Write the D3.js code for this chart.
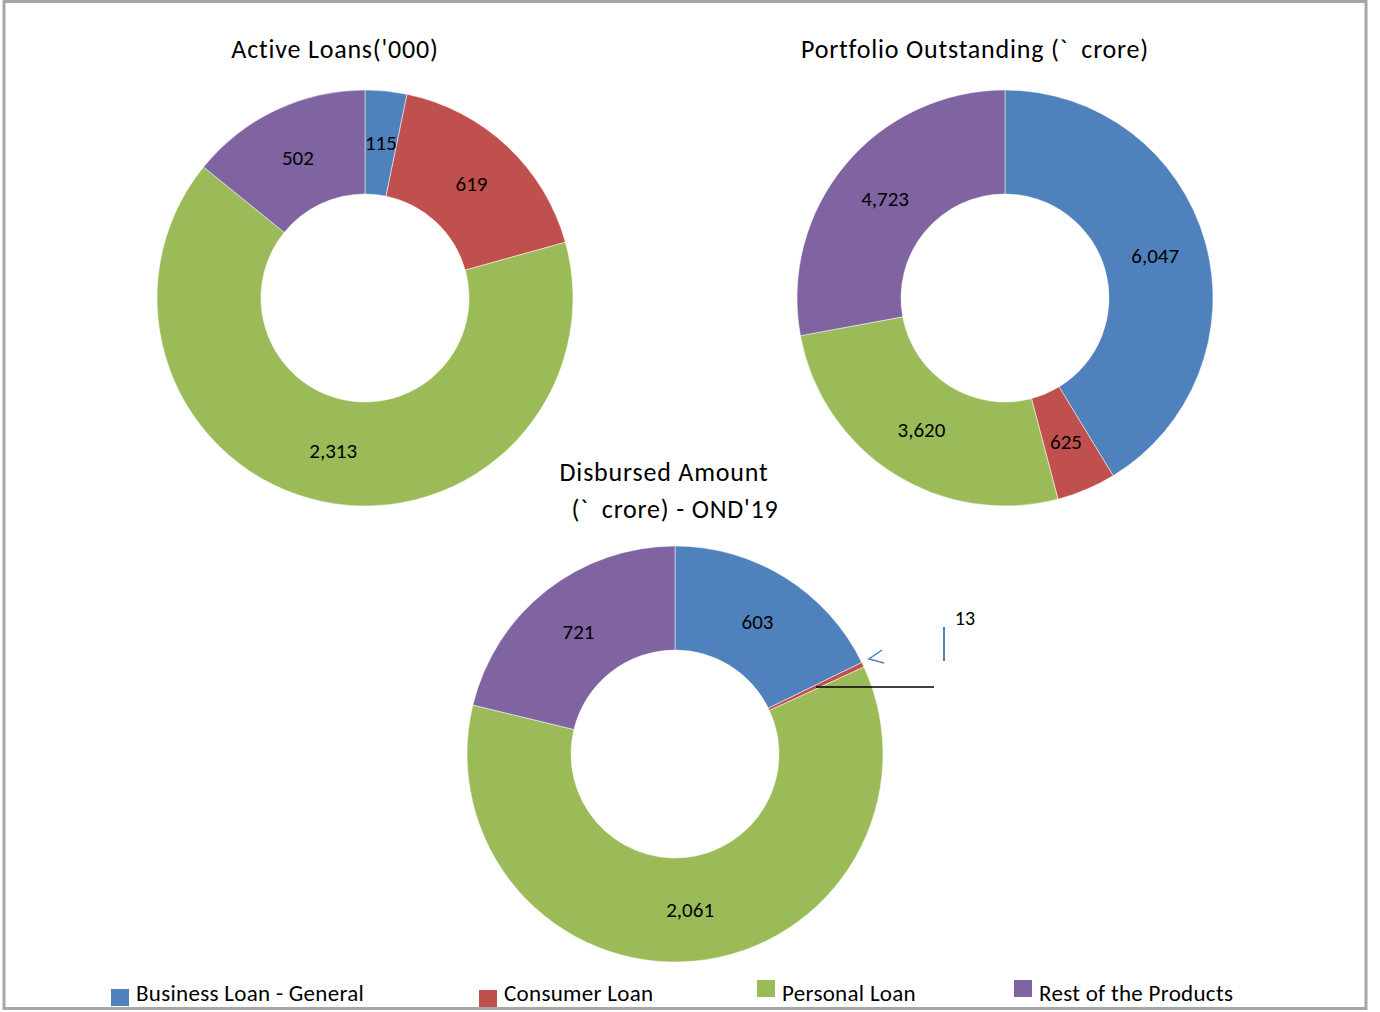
<!DOCTYPE html>
<html>
<head>
<meta charset="utf-8">
<script src="https://cdn.jsdelivr.net/npm/d3@7"></script>
<style>
  body { margin: 0; background: #fff; }
  text { font-family: Carlito, Lato, "Open Sans", sans-serif; fill: #000; white-space: pre; }
</style>
</head>
<body>
<svg id="chart" width="1380" height="1012"></svg>
<script>
// ---------------- Data ----------------
var categories = ["Business Loan - General", "Consumer Loan", "Personal Loan", "Rest of the Products"];
var colors = ["#4F81BD", "#C0504D", "#9BBB59", "#8064A2"];

// label values
var activeLoans = [115, 619, 2313, 502];
var portfolioOutstanding = [6047, 625, 3620, 4723];
var disbursedAmount = [603, 13, 2061, 721];

// slice sizes as drawn in the picture (portfolio ring does not follow its labels)
var portfolioArcShare = [41.3, 4.6, 26.2, 27.9];

var activeTitle = ["Active Loans('000)"];
var portfolioTitle = ["Portfolio Outstanding (`  crore)"];
var disbursedTitle = ["Disbursed Amount", "(`  crore) - OND'19"];

// ---------------- Layout ----------------
var outerR = 208, innerR = 104;

var charts = [
  {labels: activeLoans, arcs: activeLoans, title: activeTitle, cx: 365, cy: 298, tx: [335], ty: [58]},
  {labels: portfolioOutstanding, arcs: portfolioArcShare, title: portfolioTitle, cx: 1005, cy: 298, tx: [975], ty: [58]},
  {labels: disbursedAmount, arcs: disbursedAmount, title: disbursedTitle, cx: 675, cy: 754, tx: [664, 675], ty: [481, 518]}
];

var svg = d3.select("#chart");

// outer frame
svg.append("rect")
  .attr("x", 4).attr("y", 1.5)
  .attr("width", 1362).attr("height", 1007)
  .style("fill", "none")
  .style("stroke", "#A6A6A6")
  .style("stroke-width", 3);

var pie = d3.pie().sort(null).value(function(d) { return d; });
var arc = d3.arc().innerRadius(innerR).outerRadius(outerR);
var fmt = d3.format(",");

charts.forEach(function(c, ci) {
  var g = svg.append("g").attr("transform", "translate(" + c.cx + "," + c.cy + ")");
  var arcs = pie(c.arcs);

  g.selectAll("path.slice").data(arcs).enter().append("path")
    .attr("class", "slice")
    .attr("d", arc)
    .style("fill", function(d, i) { return colors[i]; })
    .style("stroke", "#fff")
    .style("stroke-width", 0.5);

  // data labels at the centroid (skip the tiny slice in the disbursed chart)
  g.selectAll("text.lbl").data(arcs).enter()
    .filter(function(d) { return d.endAngle - d.startAngle > 0.05; })
    .append("text")
    .attr("class", "lbl")
    .attr("x", function(d) { return arc.centroid(d)[0]; })
    .attr("y", function(d) { return arc.centroid(d)[1]; })
    .attr("dy", "0.35em")
    .attr("text-anchor", "middle")
    .style("font-size", "21px")
    .text(function(d) { return fmt(c.labels[d.index]); });

  // titles
  c.title.forEach(function(t, k) {
    svg.append("text")
      .attr("x", c.tx[k]).attr("y", c.ty[k])
      .attr("text-anchor", "middle")
      .style("font-size", "26px")
      .style("letter-spacing", "0.8px")
      .text(t);
  });

  // tiny slice callout for disbursed chart
  if (ci === 2) {
    svg.append("text")
      .attr("x", c.cx + 290).attr("y", c.cy - 129)
      .attr("text-anchor", "middle")
      .style("font-size", "20px")
      .text(fmt(c.labels[1]));
    // stray annotation strokes
    svg.append("path")
      .attr("d", "M" + (c.cx + 207) + "," + (c.cy - 104) + " L" + (c.cx + 194) + "," + (c.cy - 95) +
                 " L" + (c.cx + 209) + "," + (c.cy - 91))
      .style("fill", "none").style("stroke", "#4F81BD").style("stroke-width", 1.5);
    svg.append("line")
      .attr("x1", c.cx + 269).attr("x2", c.cx + 269)
      .attr("y1", c.cy - 127).attr("y2", c.cy - 93)
      .style("stroke", "#4F81BD").style("stroke-width", 2);
    svg.append("line")
      .attr("x1", c.cx + 141).attr("x2", c.cx + 259)
      .attr("y1", c.cy - 67).attr("y2", c.cy - 67)
      .style("stroke", "#000").style("stroke-width", 1.5);
  }
});

// ---------------- Legend ----------------
var legendX = [111, 479, 757, 1014];
var legendY = [989, 990, 980, 980];
var legend = svg.selectAll("g.legend").data(categories).enter().append("g")
  .attr("class", "legend")
  .attr("transform", function(d, i) { return "translate(" + legendX[i] + "," + legendY[i] + ")"; });

legend.append("rect")
  .attr("width", 18).attr("height", 17)
  .style("fill", function(d, i) { return colors[i]; });

legend.append("text")
  .attr("x", 25)
  .attr("y", function(d, i) { return 1001 - legendY[i]; })
  .style("font-size", "23px")
  .style("letter-spacing", "0.3px")
  .text(function(d) { return d; });
</script>
</body>
</html>
